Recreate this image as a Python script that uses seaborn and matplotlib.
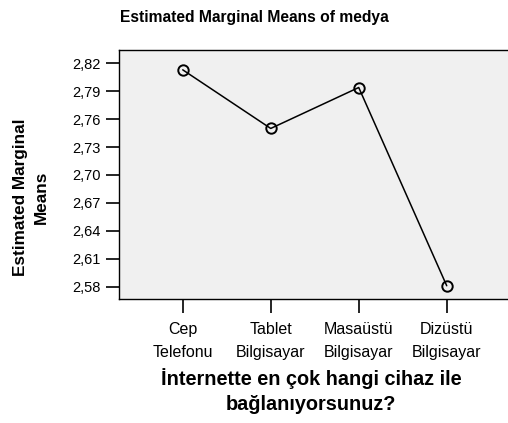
import numpy as np
import pandas as pd
import matplotlib
matplotlib.use('Agg')
import matplotlib.pyplot as plt
from matplotlib.ticker import FuncFormatter
import seaborn as sns

# Estimated marginal means per device
devices = ['Cep\nTelefonu', 'Tablet\nBilgisayar', 'Masaüstü\nBilgisayar', 'Dizüstü\nBilgisayar']
means = [2.813, 2.750, 2.794, 2.581]
yticks = [2.58, 2.61, 2.64, 2.67, 2.70, 2.73, 2.76, 2.79, 2.82]

sns.set_style('white')
plt.rcParams['font.family'] = ['Liberation Sans', 'DejaVu Sans']
plt.rcParams['text.color'] = 'black'
plt.rcParams['axes.labelcolor'] = 'black'
plt.rcParams['xtick.color'] = 'black'
plt.rcParams['ytick.color'] = 'black'

df = pd.DataFrame({'device': devices, 'mean': means})

fig = plt.figure(figsize=(5.08, 4.23), dpi=100)
ax = fig.add_axes([0.2343, 0.2939, 0.7705, 0.5879])
ax.set_facecolor('#f0f0f0')

sns.lineplot(data=df, x='device', y='mean', ax=ax, color='black', linewidth=1.1,
             marker='o', markersize=7.5, markerfacecolor='none',
             markeredgecolor='black', markeredgewidth=1.4, sort=False)

ax.set_xlim(-0.724, 3.724)
ax.set_ylim(2.5671, 2.8343)
ax.set_yticks(yticks)
ax.yaxis.set_major_formatter(FuncFormatter(lambda v, p: f'{v:.2f}'.replace('.', ',')))

for side in ['left', 'top', 'bottom']:
    ax.spines[side].set_color('black')
    ax.spines[side].set_linewidth(1.0)
ax.spines['right'].set_visible(False)

ax.tick_params(axis='y', direction='out', length=9.3, width=1.2,
               labelsize=10.5, pad=4, left=True)
ax.tick_params(axis='x', direction='out', length=10, width=1.2,
               labelsize=11.5, pad=7, bottom=True)
for lbl in ax.get_xticklabels():
    lbl.set_linespacing(1.65)

ax.set_xlabel('')
ax.set_ylabel('')

fig.text(31 / 508, 1 - 197 / 423, 'Estimated Marginal\nMeans', rotation=90,
         ha='center', va='center', fontsize=12.3, fontweight='bold', linespacing=1.45)
fig.text(311 / 508, 1 - 391 / 423, 'İnternette en çok hangi cihaz ile\nbağlanıyorsunuz?',
         ha='center', va='center', fontsize=14.3, fontweight='bold', linespacing=1.46)
fig.text(0.5, 0.958, 'Estimated Marginal Means of medya', ha='center', va='center',
         fontsize=11.25, fontweight='bold')

fig.savefig('out.png', dpi=100)
